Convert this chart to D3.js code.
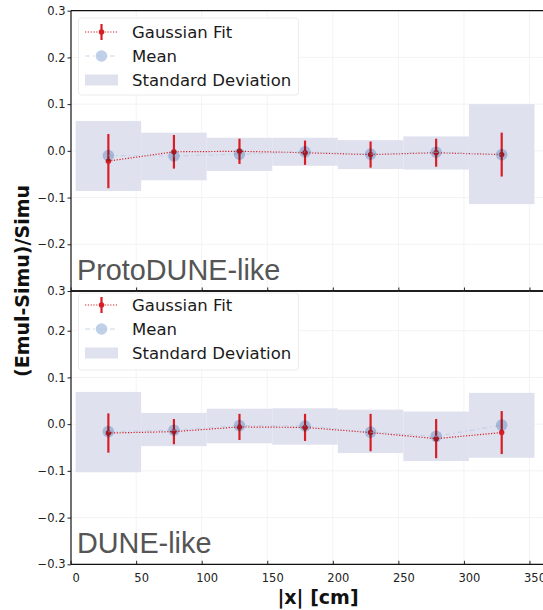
<!DOCTYPE html>
<html><head><meta charset="utf-8">
<script src="https://cdn.jsdelivr.net/npm/d3@7"></script>
<style>body{margin:0;background:#fff}svg{display:block}</style>
</head><body>
<script>
// ---- data ----
const binCenters = [25, 75, 125, 175, 225, 275, 325];
const binEdgesLo = [0, 50, 100, 150, 200, 250, 300];
const binEdgesHi = [50, 100, 150, 200, 250, 300, 350];
const xTicks = [0, 50, 100, 150, 200, 250, 300, 350];

// ProtoDUNE-like
const protoFit    = [-0.022, -0.002, -0.001, -0.004, -0.008, -0.004, -0.008];
const protoFitErr = [ 0.058,  0.036,  0.027,  0.026,  0.028,  0.030,  0.047];
const protoMean   = [-0.010, -0.011, -0.007, -0.002, -0.007, -0.003, -0.008];
const protoSdHi   = [ 0.064,  0.039,  0.028,  0.028,  0.023,  0.031,  0.100];
const protoSdLo   = [-0.086, -0.063, -0.043, -0.032, -0.039, -0.040, -0.114];

// DUNE-like
const duneFit     = [-0.019, -0.016, -0.006, -0.007, -0.018, -0.031, -0.018];
const duneFitErr  = [ 0.042,  0.027,  0.028,  0.029,  0.040,  0.042,  0.046];
const duneMean    = [-0.016, -0.013, -0.003, -0.004, -0.017, -0.026, -0.002];
const duneSdHi    = [ 0.069,  0.024,  0.033,  0.034,  0.031,  0.027,  0.067];
const duneSdLo    = [-0.103, -0.047, -0.041, -0.044, -0.062, -0.079, -0.072];

const yTicks = [-0.3, -0.2, -0.1, 0.0, 0.1, 0.2, 0.3];
const legendLabels = ["Gaussian Fit", "Mean", "Standard Deviation"];
const panelLabels = ["ProtoDUNE-like", "DUNE-like"];

// ---- layout ----
const W = 543, H = 610;
const RED = "#d81e24", BLUE = "#b4c8e4", BOX = "#e0e1ee";
const svg = d3.select("body").append("svg").attr("width", W).attr("height", H)
  .style("font-family", "'DejaVu Sans', sans-serif");

const x = d3.scaleLinear().domain([-3.5, 356.5]).range([71, 543]);
const TICK_SHIFT = -5;

const panels = [
  {label: panelLabels[0], fit: protoFit, err: protoFitErr, mean: protoMean, hi: protoSdHi, lo: protoSdLo,
   y: d3.scaleLinear().domain([-0.3, 0.3]).range([291, 10.7]), top: 10.7, bottom: 291,
   tickVals: [-0.2, -0.1, 0.0, 0.1, 0.2, 0.3], legTop: 18, rows: [14, 38, 62], labelBase: 280},
  {label: panelLabels[1], fit: duneFit, err: duneFitErr, mean: duneMean, hi: duneSdHi, lo: duneSdLo,
   y: d3.scaleLinear().domain([-0.3, 0.285]).range([564.3, 291]), top: 291, bottom: 564.3,
   tickVals: [-0.3, -0.2, -0.1, 0.0, 0.1, 0.2, 0.285], legTop: 293, rows: [12, 36, 60], labelBase: 553.3}
];

const fmt = d3.format(".1f");

panels.forEach((p, pi) => {
  const g = svg.append("g");
  const y = p.y;
  const clipId = "clip" + pi;
  svg.append("clipPath").attr("id", clipId).append("rect")
    .attr("x", 71).attr("y", p.top).attr("width", W - 71).attr("height", p.bottom - p.top);
  const inner = g.append("g").attr("clip-path", `url(#${clipId})`).style("isolation", "isolate");

  // grid
  inner.selectAll(".gx").data(xTicks).join("line")
    .attr("x1", d => x(d) + TICK_SHIFT).attr("x2", d => x(d) + TICK_SHIFT)
    .attr("y1", p.top).attr("y2", p.bottom).attr("stroke", "#f3f3f3").attr("stroke-width", 1);
  inner.selectAll(".gy").data(yTicks).join("line")
    .attr("x1", 71).attr("x2", W).attr("y1", d => y(d)).attr("y2", d => y(d))
    .attr("stroke", "#f3f3f3").attr("stroke-width", 1);

  // SD boxes
  inner.selectAll(".box").data(binCenters).join("rect")
    .attr("x", (d, i) => x(binEdgesLo[i])).attr("width", (d, i) => x(binEdgesHi[i]) - x(binEdgesLo[i]))
    .attr("y", (d, i) => y(p.hi[i])).attr("height", (d, i) => y(p.lo[i]) - y(p.hi[i]))
    .attr("fill", BOX);

  // fit line
  const line = d3.line().x((d, i) => x(binCenters[i])).y(d => y(d));
  inner.append("path").datum(p.fit).attr("d", line).attr("fill", "none")
    .attr("stroke", RED).attr("stroke-width", 1.2).attr("stroke-dasharray", "1.2,1.6");
  // error bars
  inner.selectAll(".eb").data(p.fit).join("line")
    .attr("x1", (d, i) => x(binCenters[i])).attr("x2", (d, i) => x(binCenters[i]))
    .attr("y1", (d, i) => y(d + p.err[i])).attr("y2", (d, i) => y(d - p.err[i]))
    .attr("stroke", RED).attr("stroke-width", 2.2);
  inner.selectAll(".fm").data(p.fit).join("circle")
    .attr("cx", (d, i) => x(binCenters[i])).attr("cy", d => y(d)).attr("r", 2.7).attr("fill", RED);
  // mean line + points
  inner.append("path").datum(p.mean).attr("d", line).attr("fill", "none")
    .attr("stroke", BLUE).attr("stroke-opacity", 0.6).attr("stroke-width", 1.2)
    .attr("stroke-dasharray", "5,3,1.5,3");
  inner.selectAll(".mm").data(p.mean).join("circle")
    .attr("cx", (d, i) => x(binCenters[i])).attr("cy", d => y(d)).attr("r", 5.8)
    .attr("fill", BLUE).attr("fill-opacity", 0.85).style("mix-blend-mode", "multiply");

  // panel label
  g.append("text").attr("x", 77).attr("y", p.labelBase).text(p.label)
    .attr("font-family", "'Liberation Sans', Arial, sans-serif").attr("font-size", 28.8).attr("fill", "#555");

  // legend
  const lg = g.append("g").attr("transform", `translate(0,${p.legTop})`);
  lg.append("rect").attr("x", 78.5).attr("y", 0).attr("width", 220).attr("height", 77).attr("rx", 3)
    .attr("fill", "#fff").attr("fill-opacity", 0.85).attr("stroke", "#ececec").attr("stroke-width", 1);
  const r0 = p.rows[0], r1 = p.rows[1], r2 = p.rows[2];
  lg.append("line").attr("x1", 85).attr("x2", 118).attr("y1", r0).attr("y2", r0)
    .attr("stroke", RED).attr("stroke-width", 1.2).attr("stroke-dasharray", "1.2,1.6");
  lg.append("line").attr("x1", 101.5).attr("x2", 101.5).attr("y1", r0 - 8).attr("y2", r0 + 8)
    .attr("stroke", RED).attr("stroke-width", 2.2);
  lg.append("circle").attr("cx", 101.5).attr("cy", r0).attr("r", 2.7).attr("fill", RED);
  lg.append("line").attr("x1", 85).attr("x2", 118).attr("y1", r1).attr("y2", r1)
    .attr("stroke", BLUE).attr("stroke-opacity", 0.7).attr("stroke-width", 1.2).attr("stroke-dasharray", "5,3,1.5,3");
  lg.append("circle").attr("cx", 101.5).attr("cy", r1).attr("r", 5.8).attr("fill", BLUE).attr("fill-opacity", 0.85);
  lg.append("rect").attr("x", 85).attr("y", r2 - 5.5).attr("width", 33).attr("height", 11).attr("fill", BOX);
  lg.selectAll(".lt").data(legendLabels).join("text")
    .attr("x", 132).attr("y", (d, i) => p.rows[i]).attr("dy", "0.36em").text(d => d)
    .attr("font-size", 16.5).attr("fill", "#1a1a1a");

  // y axis
  const ya = g.append("g").attr("transform", "translate(71,0)")
    .call(d3.axisLeft(y).tickValues(p.tickVals).tickSize(3.5).tickPadding(2).tickFormat(d => fmt(d)));
  ya.select(".domain").remove();
  ya.selectAll("text").attr("font-size", 11.5).attr("fill", "#222").attr("font-family", "'DejaVu Sans', sans-serif");
  ya.selectAll("line").attr("stroke", "#222");

  // x ticks (inward) on bottom spine
  const xa = g.append("g").attr("transform", `translate(0,${p.bottom})`)
    .call(d3.axisBottom(x).tickValues(xTicks).tickSizeInner(-3.5).tickSizeOuter(0).tickPadding(10));
  xa.select(".domain").remove();
  xa.selectAll(".tick line").attr("transform", `translate(${TICK_SHIFT},0)`).attr("stroke", "#222");
  xa.selectAll("text").attr("font-size", 11.5).attr("fill", "#222").attr("font-family", "'DejaVu Sans', sans-serif")
    .style("display", pi === 1 ? null : "none");

  // spines
  g.append("line").attr("x1", 71).attr("x2", 71).attr("y1", p.top).attr("y2", p.bottom).attr("stroke", "#111").attr("stroke-width", 1.2);
  g.append("line").attr("x1", 71).attr("x2", W).attr("y1", p.top).attr("y2", p.top).attr("stroke", "#111").attr("stroke-width", 1.3);
  g.append("line").attr("x1", 71).attr("x2", W).attr("y1", p.bottom).attr("y2", p.bottom).attr("stroke", "#111").attr("stroke-width", 1.3);
});

// axis titles
svg.append("text").attr("x", 318).attr("y", 604).attr("text-anchor", "middle")
  .attr("font-size", 19).attr("font-weight", "bold").attr("fill", "#111").text("|x| [cm]");
svg.append("text").attr("transform", "translate(29,281) rotate(-90)").attr("text-anchor", "middle")
  .attr("font-size", 19).attr("font-weight", "bold").attr("fill", "#111").text("(Emul-Simu)/Simu");
</script>
</body></html>
